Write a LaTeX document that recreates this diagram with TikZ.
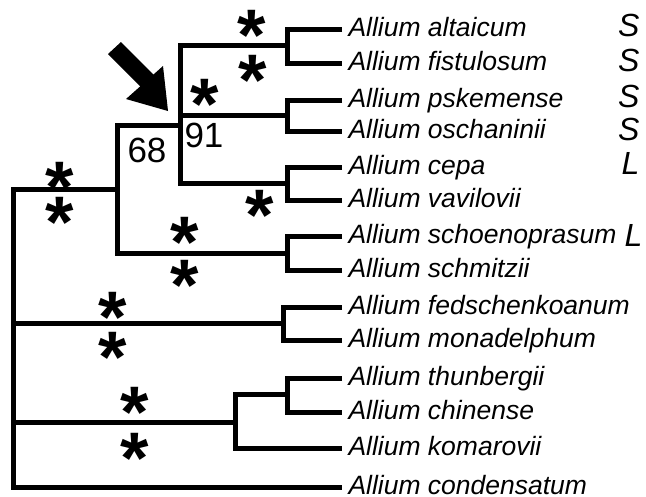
\documentclass[tikz,border=0pt]{standalone}
\usepackage{fontspec}
\setmainfont{Liberation Sans}
\begin{document}
\begin{tikzpicture}[x=1pt,y=-1pt,line width=5pt,line join=miter,
  sp/.style={anchor=west,font=\fontsize{26.5}{26.5}\selectfont\itshape,inner xsep=4pt,inner ysep=0pt,text height=14.5pt,text depth=0pt},
  tag/.style={anchor=east,font=\fontsize{32}{32}\selectfont\itshape,inner sep=0pt},
  lab/.style={font=\fontsize{35}{35}\selectfont,inner sep=0pt},
  ast/.style={anchor=base,font=\fontsize{73}{73}\selectfont\bfseries,inner sep=0pt,yshift=-37pt}]
\useasboundingbox[fill=white] (0,0) rectangle (646,496);
% leaves
\node[sp] (alt) at (342,29) {Allium altaicum};
\node[sp] (fis) at (342,63) {Allium fistulosum};
\node[sp] (psk) at (342,100) {Allium pskemense};
\node[sp] (osc) at (342,131) {Allium oschaninii};
\node[sp] (cep) at (342,167) {Allium cepa};
\node[sp] (vav) at (342,200) {Allium vavilovii};
\node[sp] (sch) at (342,236) {Allium schoenoprasum};
\node[sp] (smz) at (342,270) {Allium schmitzii};
\node[sp] (fed) at (342,307) {Allium fedschenkoanum};
\node[sp] (mon) at (342,340) {Allium monadelphum};
\node[sp] (thu) at (342,378) {Allium thunbergii};
\node[sp] (chi) at (342,412) {Allium chinense};
\node[sp] (kom) at (342,448) {Allium komarovii};
\node[sp] (con) at (342,487) {Allium condensatum};
% internal nodes
\coordinate (n1) at (287,45);
\coordinate (n2) at (287,115);
\coordinate (n3) at (287,183);
\coordinate (n91) at (180,125);
\coordinate (n4) at (287,253);
\coordinate (n68) at (117,189);
\coordinate (n5) at (283,323);
\coordinate (n6) at (287,394);
\coordinate (n7) at (235,422);
\coordinate (root) at (13,323);
% branches
\draw (alt.west) -| (n1) |- (fis.west);
\draw (psk.west) -| (n2) |- (osc.west);
\draw (cep.west) -| (n3) |- (vav.west);
\draw (sch.west) -| (n4) |- (smz.west);
\draw (fed.west) -| (n5) |- (mon.west);
\draw (thu.west) -| (n6) |- (chi.west);
\draw (n1) -| (n91) |- (n3);
\draw (n2) -- (n2 -| n91);
\draw (n91) -| (n68) |- (n4);
\draw (n6) -| (n7) |- (kom.west);
\draw (n68) -| (root) |- (con.west);
\draw (n5) -- (n5 -| root);
\draw (n7) -- (n7 -| root);
% tags
\node[tag] (t1) at (642,25) {S};
\node[tag] (t2) at (642,60) {S};
\node[tag] (t3) at (642,96) {S};
\node[tag] (t4) at (642,129) {S};
\node[tag] (t5) at (642,163) {L};
\node[tag] (t6) at (645,235) {L};
% support labels
\node[lab] (b68) at (147,150) {68};
\node[lab] (b91) at (204,135) {91};
% asterisks
\node[ast] (a1) at (252,23) {*};
\node[ast] (a2) at (253,68) {*};
\node[ast] (a3) at (205,92) {*};
\node[ast] (a4) at (260,203) {*};
\node[ast] (a5) at (60,175) {*};
\node[ast] (a6) at (60,210) {*};
\node[ast] (a7) at (185,230) {*};
\node[ast] (a8) at (185,273) {*};
\node[ast] (a9) at (113,305) {*};
\node[ast] (a10) at (113,345) {*};
\node[ast] (a11) at (135,400) {*};
\node[ast] (a12) at (135,446) {*};
% arrow
\fill (108,54) -- (140.3,86.3) -- (126,99) -- (168,111) -- (163,66) -- (153.5,74.5) -- (121,42) -- cycle;
\end{tikzpicture}
\end{document}
